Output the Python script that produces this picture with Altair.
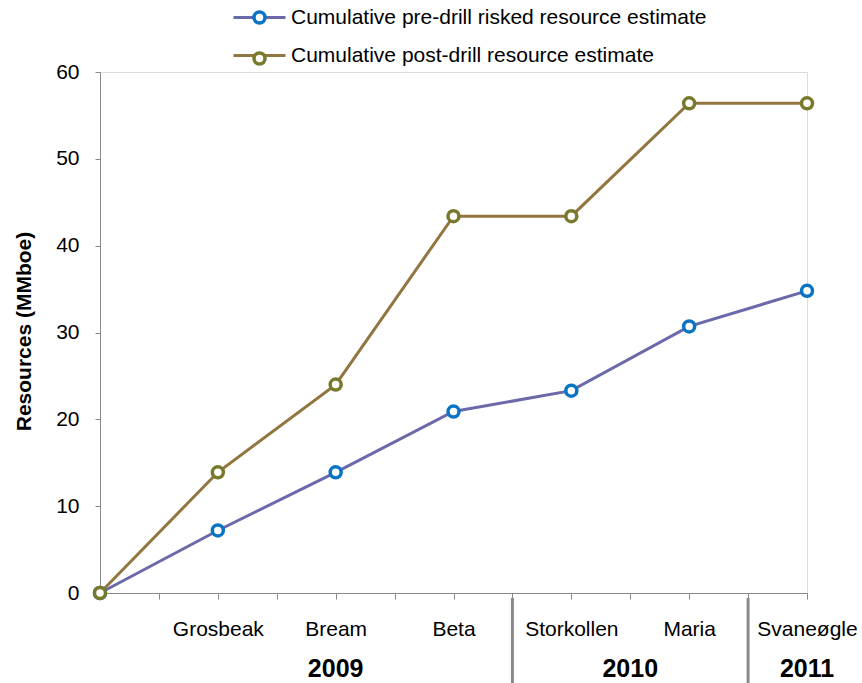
import json
import altair as alt
import pandas as pd

# ---- data ----
categories = ["", "Grosbeak", "Bream", "Beta", "Storkollen", "Maria", "Svaneøgle"]
pre_drill = [0, 7.2, 13.9, 20.9, 23.3, 30.7, 34.8]
post_drill = [0, 13.9, 24.0, 43.4, 43.4, 56.4, 56.4]
series_names = ["Cumulative pre-drill risked resource estimate",
                "Cumulative post-drill resource estimate"]
years = ["2009", "2010", "2011"]
year_first_cat = [1, 4, 6]
year_last_cat = [3, 5, 6]

# ---- build tables ----
rows = []
for name, vals in zip(series_names, [pre_drill, post_drill]):
    for i, v in enumerate(vals):
        rows.append({"idx": i, "category": categories[i], "value": v,
                     "series": name, "series_pt": name})
df = pd.DataFrame(rows)

year_df = pd.DataFrame({
    "year": years,
    "center": [(a + b) / 2 for a, b in zip(year_first_cat, year_last_cat)],
})
div_df = pd.DataFrame({"pos": [f - 0.5 for f in year_first_cat[1:]]})

line_colors = ["#6A69A9", "#92763F"]
marker_colors = ["#0A74C4", "#777A2A"]

FONT = "Liberation Sans"
label_expr = json.dumps(categories, ensure_ascii=False).replace('"', "'") + "[datum.value] || ''"

x_enc = alt.X("idx:Q",
              scale=alt.Scale(domain=[0, 6], nice=False, zero=False),
              axis=alt.Axis(values=[i / 2 for i in range(13)], labelExpr=label_expr,
                            title=None, grid=False, tickSize=6, labelPadding=19,
                            labelFontSize=21, labelColor="black", labelFont=FONT,
                            domainColor="#888888", tickColor="#888888",
                            labelOverlap=False, labelFlush=False))
y_enc = alt.Y("value:Q",
              scale=alt.Scale(domain=[0, 60], nice=False),
              axis=alt.Axis(values=list(range(0, 61, 10)), title="Resources (MMboe)",
                            grid=False, tickSize=5, labelPadding=16,
                            labelFontSize=21, labelColor="black", labelFont=FONT,
                            domainColor="#888888", tickColor="#888888",
                            titleFont=FONT, titleFontSize=21, titleFontWeight="bold",
                            titleColor="black", titleX=-76, titleY=259,
                            titleAngle=-90, titleAlign="center", titleBaseline="middle"))

LEG_X, LEG_Y, ROW_PAD = 149, -65, 16

lines = alt.Chart(df).mark_line(strokeWidth=3).encode(
    x=x_enc, y=y_enc,
    color=alt.Color("series:N",
                    scale=alt.Scale(domain=series_names, range=line_colors),
                    legend=alt.Legend(title=None, orient="none", legendX=LEG_X, legendY=LEG_Y,
                                      symbolType="M-5.2,0L-0.9,0M0.9,0L5.2,0",
                                      symbolSize=100, symbolStrokeWidth=3,
                                      labelFontSize=21, labelFont=FONT, labelColor="black",
                                      labelOffset=21, rowPadding=ROW_PAD, padding=0,
                                      labelLimit=600)),
    detail="series:N",
)

# marker scale listed in reverse order so that its legend stays separate;
# legend values keep the original order
points = alt.Chart(df).mark_point(shape="circle", filled=True, fill="white", size=121,
                                  strokeWidth=3.5, opacity=1).encode(
    x="idx:Q", y="value:Q",
    stroke=alt.Stroke("series_pt:N",
                      scale=alt.Scale(domain=series_names[::-1], range=marker_colors[::-1]),
                      legend=alt.Legend(title=None, orient="none", legendX=LEG_X, legendY=LEG_Y,
                                        values=series_names,
                                        symbolType="circle", symbolSize=121,
                                        symbolStrokeWidth=3.5, symbolFillColor="white",
                                        labelFontSize=21, labelFont=FONT, labelExpr="' '",
                                        labelOffset=21, rowPadding=ROW_PAD, padding=0)),
)

year_text = alt.Chart(year_df).mark_text(fontSize=25, fontWeight="bold", font=FONT,
                                          baseline="alphabetic", align="center",
                                          color="black").encode(
    x="center:Q", y=alt.value(605), text="year:N")

dividers = alt.Chart(div_df).mark_rule(color="#8A8A8A", strokeWidth=3).encode(
    x="pos:Q", y=alt.value(526), y2=alt.value(611))

chart = alt.layer(lines, points, dividers, year_text).properties(
    width=707, height=521,
    autosize=alt.AutoSizeParams(type="none"),
    padding={"left": 100, "top": 72, "right": 55, "bottom": 90},
).configure_view(stroke=None).configure(font=FONT)

chart.save("out.html", embed_options={"renderer": "svg", "actions": False})
